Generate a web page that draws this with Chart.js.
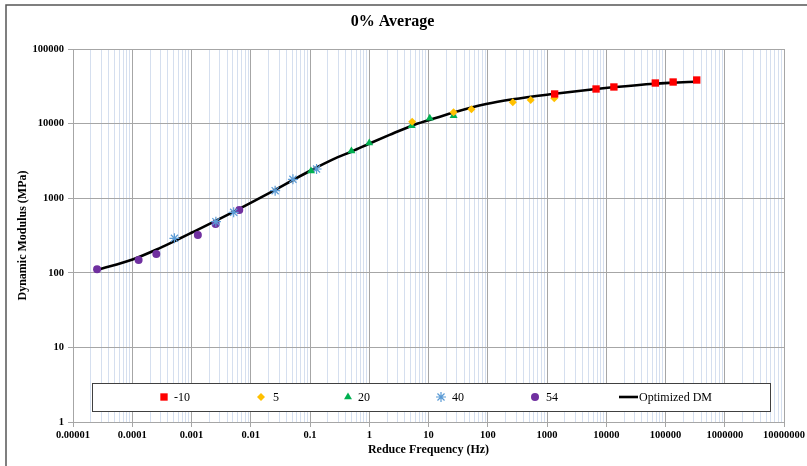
<!DOCTYPE html>
<html>
<head>
<meta charset="utf-8">
<title>0% Average</title>
<script src="https://cdn.jsdelivr.net/npm/chart.js"></script>
<style>
  body { margin: 0; background: #fff; }
  #wrap { width: 807px; height: 466px; }
</style>
</head>
<body>
<div id="wrap"><canvas id="dm" width="807" height="466"></canvas></div>
<script>
// values (reduced frequency in Hz, dynamic modulus in MPa)
const freqM10 = [1346, 6730, 13460, 67300, 134600, 336500];
const dmM10   = [24950, 29100, 30970, 35000, 36100, 38400];

const freq5 = [5.3, 26.5, 53, 265, 530, 1325];
const dm5   = [10610, 14170, 15550, 19300, 20720, 21850];

const freq20 = [0.104, 0.5, 1, 5.2, 10.5, 26.5];
const dm20   = [2316, 4295, 5495, 9380, 11780, 12770];

const freq40 = [0.000515, 0.00258, 0.00515, 0.0258, 0.0515, 0.129];
const dm40   = [290, 484, 647, 1260, 1792, 2462];

const freq54 = [0.0000255, 0.000128, 0.000255, 0.00128, 0.00255, 0.0064];
const dm54   = [112, 148, 179, 321, 451, 695];

const fitFreq = [0.0000255, 0.000104, 0.000258, 0.00052, 0.001, 0.0026, 0.0051, 0.0096,
  0.0254, 0.0516, 0.0988, 0.244, 0.53, 1.01, 2.2, 5.1, 10.4, 25.7, 94, 264,
  1245, 6710, 12800, 64500, 131000, 325000];
const fitDM = [109, 152, 205, 267, 344, 500, 655, 850,
  1285, 1754, 2316, 3320, 4300, 5400, 7050, 9300, 11200, 14000, 18300, 21200,
  24950, 29100, 30680, 34270, 35330, 36450];

const seriesNames = ['-10', '5', '20', '40', '54', 'Optimized DM'];
const xTickLabels = ['0.00001', '0.0001', '0.001', '0.01', '0.1', '1', '10', '100',
  '1000', '10000', '100000', '1000000', '10000000'];
const yTickLabels = ['1', '10', '100', '1000', '10000', '100000'];

const SERIF = "'Liberation Serif', 'Times New Roman', serif";
const majorGrid = '#a6a6a6';
const minorGrid = '#d5dfef';

const pts = (xs, ys) => xs.map((x, i) => ({ x: x, y: ys[i] }));
const isDecade = v => Math.abs(Math.log10(v) - Math.round(Math.log10(v))) < 1e-9;

// every 1..9 step of each decade for the x grid
const xTicks = [];
for (let e = -5; e <= 7; e++) {
  for (let m = 1; m <= 9; m++) {
    if (e === 7 && m > 1) break;
    xTicks.push(Number((m * Math.pow(10, e)).toPrecision(12)));
  }
}
const yTicks = yTickLabels.map(Number);

const markers = [
  { name: seriesNames[0], style: 'rect',    r: 5.2, color: '#ff0000' },
  { name: seriesNames[1], style: 'rectRot', r: 4,   color: '#ffc000' },
  { name: seriesNames[2], style: 'triangle',r: 4.6, color: '#00b050' },
  { name: seriesNames[3], style: 'star',    r: 5,   color: '#5b9bd5' },
  { name: seriesNames[4], style: 'circle',  r: 4,   color: '#7030a0' }
];
const markerData = [pts(freqM10, dmM10), pts(freq5, dm5), pts(freq20, dm20), pts(freq40, dm40), pts(freq54, dm54)];

const datasets = markers.map((m, i) => ({
  label: m.name,
  data: markerData[i],
  pointStyle: m.style,
  pointRadius: m.r,
  pointHoverRadius: m.r,
  backgroundColor: m.color,
  borderColor: m.color,
  pointBorderWidth: m.style === 'star' ? 1.2 : 0,
  showLine: false
}));
datasets.push({
  label: seriesNames[5],
  data: pts(fitFreq, fitDM),
  showLine: true,
  borderColor: '#000',
  borderWidth: 2.6,
  pointRadius: 0,
  cubicInterpolationMode: 'monotone',
  fill: false
});

function drawMarker(ctx, style, x, y, r, color) {
  ctx.save();
  ctx.fillStyle = color;
  ctx.strokeStyle = color;
  ctx.beginPath();
  if (style === 'rect') {
    const s = r * Math.SQRT1_2;
    ctx.rect(x - s, y - s, 2 * s, 2 * s);
    ctx.fill();
  } else if (style === 'rectRot') {
    ctx.moveTo(x, y - r); ctx.lineTo(x + r, y); ctx.lineTo(x, y + r); ctx.lineTo(x - r, y);
    ctx.closePath(); ctx.fill();
  } else if (style === 'triangle') {
    ctx.moveTo(x, y - r); ctx.lineTo(x + r * 0.866, y + r * 0.5); ctx.lineTo(x - r * 0.866, y + r * 0.5);
    ctx.closePath(); ctx.fill();
  } else if (style === 'star') {
    ctx.lineWidth = 1.2;
    for (let k = 0; k < 4; k++) {
      const a = k * Math.PI / 4;
      ctx.moveTo(x - r * Math.cos(a), y - r * Math.sin(a));
      ctx.lineTo(x + r * Math.cos(a), y + r * Math.sin(a));
    }
    ctx.stroke();
  } else {
    ctx.arc(x, y, r, 0, Math.PI * 2);
    ctx.fill();
  }
  ctx.restore();
}

// legend box sitting inside the plot, plus the outer chart frame
const boxLegend = {
  id: 'boxLegend',
  afterDraw(chart) {
    const ctx = chart.ctx;
    ctx.save();
    ctx.strokeStyle = '#555';
    ctx.lineWidth = 1.5;
    ctx.beginPath();
    ctx.moveTo(6, 470); ctx.lineTo(6, 5); ctx.lineTo(812, 5);
    ctx.stroke();

    ctx.fillStyle = '#fff';
    ctx.fillRect(92, 383, 678, 28);
    ctx.strokeStyle = '#404040';
    ctx.lineWidth = 1;
    ctx.strokeRect(92.5, 383.5, 678, 28);

    const cy = 397;
    const markX = [164, 261, 348, 441, 535];
    const textX = [174, 273, 358, 452, 546];
    ctx.font = '12px ' + SERIF;
    ctx.textBaseline = 'middle';
    ctx.textAlign = 'left';
    markers.forEach((m, i) => {
      drawMarker(ctx, m.style, markX[i], cy, m.r, m.color);
      ctx.fillStyle = '#000';
      ctx.fillText(m.name, textX[i], cy + 1);
    });
    ctx.strokeStyle = '#000';
    ctx.lineWidth = 2.6;
    ctx.beginPath();
    ctx.moveTo(619, cy); ctx.lineTo(638, cy);
    ctx.stroke();
    ctx.fillStyle = '#000';
    ctx.fillText(seriesNames[5], 639, cy + 1);
    ctx.restore();
  }
};

const tickFont = { family: SERIF, size: 10.5, weight: 'bold' };
const gridColor = c => (c.tick && isDecade(c.tick.value)) ? majorGrid : minorGrid;
const tickMarkColor = c => (c.tick && isDecade(c.tick.value)) ? majorGrid : 'rgba(0,0,0,0)';

new Chart(document.getElementById('dm'), {
  type: 'scatter',
  data: { datasets: datasets },
  plugins: [boxLegend],
  options: {
    responsive: false,
    animation: false,
    layout: { padding: { left: 0, right: 22, top: 0, bottom: 0 } },
    plugins: {
      legend: { display: false },
      tooltip: { enabled: false },
      title: {
        display: true,
        text: '0% Average',
        color: '#000',
        font: { family: SERIF, size: 16, weight: 'bold' },
        padding: { top: 12, bottom: 17.8 }
      }
    },
    scales: {
      x: {
        type: 'logarithmic',
        min: 0.00001,
        max: 10000000,
        afterBuildTicks: s => { s.ticks = xTicks.map(v => ({ value: v })); },
        afterFit: s => { s.height = 44; },
        ticks: {
          autoSkip: false,
          maxRotation: 0,
          padding: 2,
          color: '#000',
          font: tickFont,
          callback: v => isDecade(v) ? xTickLabels[Math.round(Math.log10(v)) + 5] : ''
        },
        grid: { color: gridColor, tickColor: tickMarkColor, tickLength: 5, lineWidth: 1 },
        border: { color: majorGrid },
        title: {
          display: true,
          text: 'Reduce Frequency (Hz)',
          color: '#000',
          font: { family: SERIF, size: 12, weight: 'bold' },
          padding: { top: 0, bottom: 8.8 }
        }
      },
      y: {
        type: 'logarithmic',
        min: 1,
        max: 100000,
        afterBuildTicks: s => { s.ticks = yTicks.map(v => ({ value: v })); },
        afterFit: s => { s.width = 73; },
        ticks: {
          autoSkip: false,
          padding: 4,
          color: '#000',
          font: tickFont,
          callback: v => isDecade(v) ? yTickLabels[Math.round(Math.log10(v))] : ''
        },
        grid: { color: majorGrid, tickColor: majorGrid, tickLength: 5, lineWidth: 1 },
        border: { color: majorGrid },
        title: {
          display: true,
          text: 'Dynamic Modulus (MPa)',
          color: '#000',
          font: { family: SERIF, size: 12, weight: 'bold' },
          padding: { top: 16, bottom: 0 }
        }
      }
    }
  }
});
</script>
</body>
</html>
